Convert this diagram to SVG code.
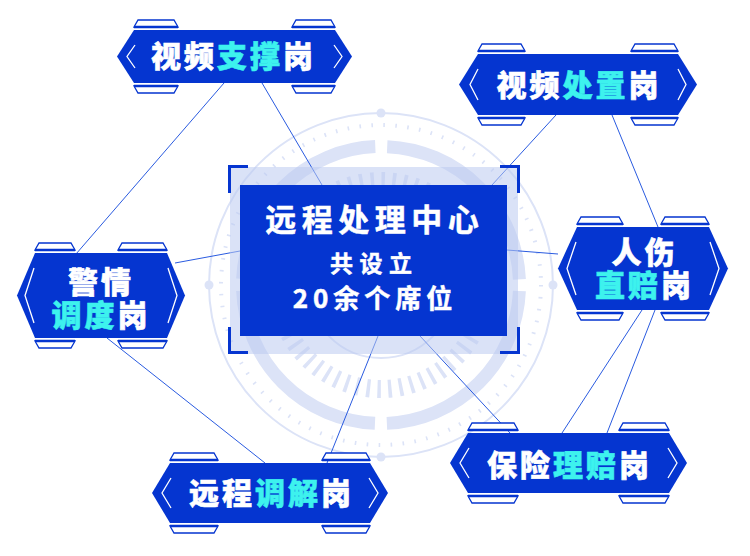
<svg xmlns="http://www.w3.org/2000/svg" width="750" height="556" viewBox="0 0 750 556">
<style>
.hex{fill:#0535D0}
.tab{fill:#fff;stroke:#0535D0;stroke-width:1.3}
.band{stroke:#0535D0;stroke-width:2.6}
.chev{fill:none;stroke:#fff;stroke-width:1.3}
.lbl{font-family:"Noto Sans CJK SC","Noto Sans",sans-serif;font-weight:900;font-size:30px;fill:#fff;stroke:#fff;stroke-width:0.6;letter-spacing:3px;text-anchor:middle}
.cy{fill:#3DF2EE;stroke:#3DF2EE}
.ctr{font-family:"Noto Sans CJK SC","Noto Sans",sans-serif;font-weight:bold;fill:#fff;stroke:#fff;stroke-width:0.5;text-anchor:middle}
.conn line{stroke:#2A5BE0;stroke-width:1}
.bk{fill:none;stroke:#0535D0;stroke-width:3}
.ring{fill:none;stroke:#DCE3F7}
</style>
<rect width="750" height="556" fill="#fff"/>
<g id="background">
  <circle class="ring" cx="381" cy="285" r="172" stroke-width="2"/>
  <circle cx="381" cy="113" r="4.5" fill="#DCE3F7"/>
  <circle cx="381" cy="457" r="4.5" fill="#DCE3F7"/>
  <circle cx="209" cy="285" r="4.5" fill="#DCE3F7"/>
  <circle cx="553" cy="285" r="4.5" fill="#DCE3F7"/>
  <circle class="ring" cx="381" cy="285" r="160" stroke-width="4" stroke-dasharray="1.6 10.4" stroke="#D6DEF6"/>
  <circle class="ring" cx="381" cy="285" r="138.5" stroke-width="13" stroke="#D7DFF6" stroke-dasharray="205.55 12" stroke-dashoffset="211.55"/>
  <circle class="ring" cx="381" cy="285" r="104" stroke-width="18" stroke="#CCD6F3" stroke-dasharray="3.5 7.39"/>
  <circle class="ring" cx="381" cy="285" r="73" stroke-width="2"/>
</g>
<g id="connectors" class="conn">
  <line x1="224" y1="83" x2="76" y2="254"/>
  <line x1="262" y1="83" x2="322" y2="185"/>
  <line x1="556" y1="115" x2="492" y2="185"/>
  <line x1="612" y1="115" x2="658" y2="227"/>
  <line x1="507" y1="250" x2="558" y2="254"/>
  <line x1="175" y1="263" x2="240" y2="251"/>
  <line x1="107" y1="338" x2="265" y2="463"/>
  <line x1="378" y1="336" x2="327" y2="463"/>
  <line x1="420" y1="336" x2="510" y2="433"/>
  <line x1="642" y1="310" x2="562" y2="433"/>
  <line x1="655" y1="310" x2="607" y2="433"/>
</g>
<g id="center">
  <rect x="230" y="167" width="288" height="187" fill="#BCCAF0" opacity="0.55"/>
  <path class="bk" d="M248,166.5 H229.5 V193 M500,166.5 H518.5 V193 M248,352.5 H229.5 V327 M500,352.5 H518.5 V327"/>
  <rect x="240" y="185" width="267" height="151" fill="#0535D0"/>
  <text class="ctr" x="374.75" y="230.8" font-size="31" letter-spacing="5.5">远程处理中心</text>
  <text class="ctr" x="374.25" y="271.7" font-size="23" letter-spacing="6.5">共设立</text>
  <text class="ctr" x="375" y="308" font-size="26" letter-spacing="5">20余个席位</text>
</g>
<g id="node-shipin-zhicheng">
  <polygon class="tab" points="138,20 174,20 178,27 134,27"/><line class="band" x1="134" y1="27" x2="178" y2="27"/>
  <polygon class="tab" points="296,20 331,20 335,27 292,27"/><line class="band" x1="292" y1="27" x2="335" y2="27"/>
  <polygon class="tab" points="134,86 178,86 174,93 138,93"/><line class="band" x1="134" y1="86" x2="178" y2="86"/>
  <polygon class="tab" points="292,86 335,86 331,93 296,93"/><line class="band" x1="292" y1="86" x2="335" y2="86"/>
  <polygon class="hex" points="117,56.5 134,30 335,30 352,56.5 335,83 134,83"/>
  <polyline class="chev" points="135,45 127,56.5 135,68"/>
  <polyline class="chev" points="334,45 342,56.5 334,68"/>
  <text class="lbl" x="233.5" y="67.4">视频<tspan class="cy">支撑</tspan>岗</text>
</g>
<g id="node-shipin-chuzhi">
  <polygon class="tab" points="482,44 521,44 525,51 478,51"/><line class="band" x1="478" y1="51" x2="525" y2="51"/>
  <polygon class="tab" points="635,44 674,44 678,51 631,51"/><line class="band" x1="631" y1="51" x2="678" y2="51"/>
  <polygon class="tab" points="478,118 525,118 521,125 482,125"/><line class="band" x1="478" y1="118" x2="525" y2="118"/>
  <polygon class="tab" points="631,118 678,118 674,125 635,125"/><line class="band" x1="631" y1="118" x2="678" y2="118"/>
  <polygon class="hex" points="459,84.5 478,54 678,54 697,84.5 678,115 478,115"/>
  <polyline class="chev" points="478,69 470,84.5 478,100"/>
  <polyline class="chev" points="678,69 686,84.5 678,100"/>
  <text class="lbl" x="579" y="96.4">视频<tspan class="cy">处置</tspan>岗</text>
</g>
<g id="node-jingqing-diaodu">
  <polygon class="tab" points="39,243 71,243 75,250 35,250"/><line class="band" x1="35" y1="250" x2="75" y2="250"/>
  <polygon class="tab" points="122,243 163,243 167,250 118,250"/><line class="band" x1="118" y1="250" x2="167" y2="250"/>
  <polygon class="tab" points="35,341 75,341 71,348 39,348"/><line class="band" x1="35" y1="341" x2="75" y2="341"/>
  <polygon class="tab" points="118,341 167,341 163,348 122,348"/><line class="band" x1="118" y1="341" x2="167" y2="341"/>
  <polygon class="hex" points="17,295.5 35,253 167,253 185,295.5 167,338 35,338"/>
  <polyline class="chev" points="34,268 25,295.5 34,323"/>
  <polyline class="chev" points="168,268 177,295.5 168,323"/>
  <text class="lbl" letter-spacing="2"><tspan x="101" y="293.4">警情</tspan><tspan x="101" y="326.4"><tspan class="cy">调度</tspan>岗</tspan></text>
</g>
<g id="node-renshang-zhipei">
  <polygon class="tab" points="581,217 619,217 623,224 577,224"/><line class="band" x1="577" y1="224" x2="623" y2="224"/>
  <polygon class="tab" points="665,217 705,217 709,224 661,224"/><line class="band" x1="661" y1="224" x2="709" y2="224"/>
  <polygon class="tab" points="577,313 623,313 619,320 581,320"/><line class="band" x1="577" y1="313" x2="623" y2="313"/>
  <polygon class="tab" points="661,313 709,313 705,320 665,320"/><line class="band" x1="661" y1="313" x2="709" y2="313"/>
  <polygon class="hex" points="558,268.5 577,227 709,227 728,268.5 709,310 577,310"/>
  <polyline class="chev" points="576,242 567,268.5 576,295"/>
  <polyline class="chev" points="710,242 719,268.5 710,295"/>
  <text class="lbl" letter-spacing="2"><tspan x="644.5" y="263.4">人伤</tspan><tspan x="644.5" y="296.4"><tspan class="cy">直赔</tspan>岗</tspan></text>
</g>
<g id="node-yuancheng-tiaojie">
  <polygon class="tab" points="174,453 214,453 218,460 170,460"/><line class="band" x1="170" y1="460" x2="218" y2="460"/>
  <polygon class="tab" points="326,453 366,453 370,460 322,460"/><line class="band" x1="322" y1="460" x2="370" y2="460"/>
  <polygon class="tab" points="170,526 218,526 214,533 174,533"/><line class="band" x1="170" y1="526" x2="218" y2="526"/>
  <polygon class="tab" points="322,526 370,526 366,533 326,533"/><line class="band" x1="322" y1="526" x2="370" y2="526"/>
  <polygon class="hex" points="152,493 170,463 370,463 388,493 370,523 170,523"/>
  <polyline class="chev" points="171,478 162,493 171,508"/>
  <polyline class="chev" points="369,478 378,493 369,508"/>
  <text class="lbl" x="271.5" y="504.4">远程<tspan class="cy">调解</tspan>岗</text>
</g>
<g id="node-baoxian-lipei">
  <polygon class="tab" points="472,423 514,423 518,430 468,430"/><line class="band" x1="468" y1="430" x2="518" y2="430"/>
  <polygon class="tab" points="623,423 665,423 669,430 619,430"/><line class="band" x1="619" y1="430" x2="669" y2="430"/>
  <polygon class="tab" points="468,496 518,496 514,503 472,503"/><line class="band" x1="468" y1="496" x2="518" y2="496"/>
  <polygon class="tab" points="619,496 669,496 665,503 623,503"/><line class="band" x1="619" y1="496" x2="669" y2="496"/>
  <polygon class="hex" points="450,463 468,433 669,433 687,463 669,493 468,493"/>
  <polyline class="chev" points="469,448 460,463 469,478"/>
  <polyline class="chev" points="668,448 677,463 668,478"/>
  <text class="lbl" x="569.5" y="476.4">保险<tspan class="cy">理赔</tspan>岗</text>
</g>
</svg>
